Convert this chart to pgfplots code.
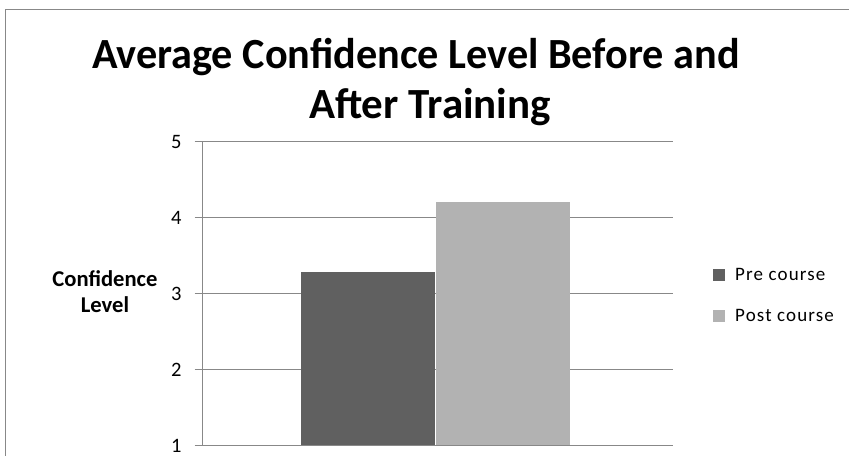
\documentclass[border=0pt]{standalone}
\usepackage{pgfplots}
\pgfplotsset{compat=1.18}
\usepackage{fontspec}
\setmainfont{Carlito}
\newfontfamily\carl{Carlito}
\newfontfamily\carlsp[LetterSpace=6]{Carlito}
\definecolor{pre}{HTML}{606060}
\definecolor{post}{HTML}{B2B2B2}
\definecolor{gridc}{HTML}{888888}
\begin{document}
\begin{tikzpicture}[x=1bp,y=1bp]
\useasboundingbox (0,0) rectangle (849,456);
\draw[gridc, line width=1bp] (5,-10) -- (5,446) -- (870,446);
\node[anchor=base, inner sep=0pt, font=\carl\bfseries\fontsize{43bp}{50bp}\selectfont] at (416,387) {\scalebox{0.982}[1]{Average Confidence Level Before and}};
\node[anchor=base, inner sep=0pt, font=\carl\bfseries\fontsize{43bp}{50bp}\selectfont] at (430,337) {After Training};
\node[anchor=base, inner sep=0pt, font=\carl\bfseries\fontsize{22.6bp}{26bp}\selectfont] at (105,169.3) {Confidence};
\node[anchor=base, inner sep=0pt, font=\carl\bfseries\fontsize{22.6bp}{26bp}\selectfont] at (105,143) {Level};
\begin{axis}[
  at={(201.7bp,11bp)}, anchor=origin,
  scale only axis, width=471bp, height=304bp,
  xmin=0, xmax=471, ymin=1, ymax=5,
  axis x line=bottom, axis y line=left,
  x axis line style={-, gridc}, y axis line style={-, gridc},
  xtick=\empty, ytick={1,2,3,4,5},
  tick align=outside, major tick length=7bp,
  tick style={gridc, line width=0.8bp},
  ymajorgrids, grid style={gridc, line width=0.8bp},
  /pgf/number format/assume math mode=true,
  yticklabel style={font=\carl\fontsize{20.5bp}{21bp}\selectfont, anchor=east, inner sep=0pt, xshift=-13bp, yshift=-1.2bp},
  ybar, bar width=134, bar shift=0pt,
  legend style={draw=none, fill=none, inner sep=0pt, at={(1.0856,0.582)}, anchor=north west,
    font=\carlsp\fontsize{19bp}{19bp}\selectfont, row sep=27bp,
    nodes={inner sep=0pt}, /tikz/every odd column/.append style={column sep=10bp}},
  legend cell align=left,
  legend image code/.code={\fill[#1] (0bp,-6bp) rectangle (12bp,6bp);},
]
\addplot[fill=pre, draw=none] coordinates {(166.3,3.28)};
\addplot[fill=post, draw=none] coordinates {(300.8,4.20)};
\legend{Pre course, Post course}
\end{axis}
\end{tikzpicture}
\end{document}
